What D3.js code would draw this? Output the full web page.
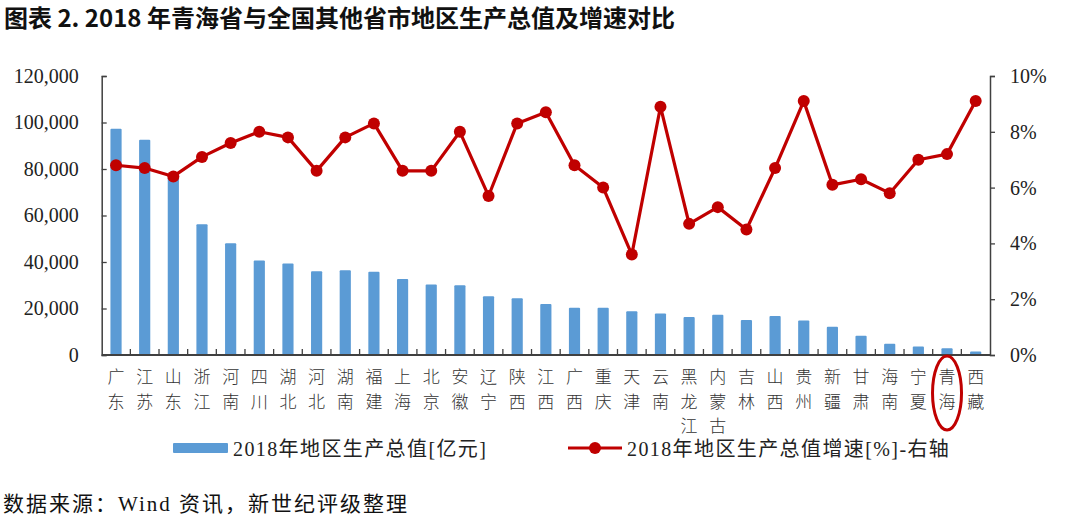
<!DOCTYPE html>
<html><head><meta charset="utf-8">
<script src="https://cdn.jsdelivr.net/npm/d3@7/dist/d3.min.js"></script>
<style>
html,body{margin:0;padding:0;background:#fff;}
svg{display:block;}
</style></head>
<body>
<svg id="chart" width="1080" height="526"></svg>
<script>
const categories = ['广东','江苏','山东','浙江','河南','四川','湖北','河北','湖南','福建','上海','北京','安徽','辽宁','陕西','江西','广西','重庆','天津','云南','黑龙江','内蒙古','吉林','山西','贵州','新疆','甘肃','海南','宁夏','青海','西藏'];
const gdp = [97278,92595,76470,56197,48056,40678,39367,36010,36426,35804,32680,30320,30007,25315,24438,21985,20353,20363,18810,17881,16362,17289,15075,16818,14806,12199,8246,4832,3705,2865,1478];
const growth = [6.8,6.7,6.4,7.1,7.6,8.0,7.8,6.6,7.8,8.3,6.6,6.6,8.0,5.7,8.3,8.7,6.8,6.0,3.6,8.9,4.7,5.3,4.5,6.7,9.1,6.1,6.3,5.8,7.0,7.2,9.1];
const leftTicks = [0,20000,40000,60000,80000,100000,120000];
const rightTicks = [0,2,4,6,8,10];
const titleText = '图表 2. 2018 年青海省与全国其他省市地区生产总值及增速对比';
const sourceText = '数据来源：Wind 资讯，新世纪评级整理';
const legendBar = '2018年地区生产总值[亿元]';
const legendLine = '2018年地区生产总值增速[%]-右轴';
const highlight = '青海';

const svg = d3.select('#chart');
const L = 101.7, R = 990, T = 76, B = 355;
const serif = "'Liberation Serif','Noto Sans CJK SC',serif";
const cjk = "'Noto Sans CJK SC',sans-serif";
const red = '#C00000', blue = '#5B9BD5', axisCol = '#404040';

const x = d3.scaleBand().domain(categories).range([L, R]).padding(0);
const yL = d3.scaleLinear().domain([0, 120000]).range([B, T]);
const yR = d3.scaleLinear().domain([0, 10]).range([B, T]);

// title
svg.append('text').attr('x', 4).attr('y', 27)
  .attr('font-family', cjk).attr('font-weight', 700).attr('font-size', 24)
  .attr('fill', '#111').text(titleText);

// bars
const bw = x.bandwidth() * 0.39;
svg.append('g').selectAll('rect').data(categories).join('rect')
  .attr('x', (d) => x(d) + x.bandwidth()/2 - bw/2)
  .attr('y', (d, i) => yL(gdp[i]))
  .attr('width', bw)
  .attr('height', (d, i) => B - yL(gdp[i]))
  .attr('fill', blue).attr('rx', 1);

// left axis
const gl = svg.append('g').attr('transform', `translate(${L},0)`)
  .call(d3.axisLeft(yL).tickValues(leftTicks).tickSize(-5).tickPadding(23).tickFormat(d3.format(',')));
gl.select('.domain').attr('stroke', axisCol).attr('stroke-width', 1.5);
gl.selectAll('.tick line').attr('stroke', axisCol).attr('stroke-width', 1.3);
gl.selectAll('.tick text').attr('font-family', serif).attr('font-size', 20).attr('fill', '#222');

// right axis
const gr = svg.append('g').attr('transform', `translate(${R},0)`)
  .call(d3.axisRight(yR).tickValues(rightTicks).tickSize(5).tickPadding(15).tickFormat((d) => d + '%'));
gr.select('.domain').attr('stroke', axisCol).attr('stroke-width', 1.5);
gr.selectAll('.tick line').attr('stroke', axisCol).attr('stroke-width', 1.3);
gr.selectAll('.tick text').attr('font-family', serif).attr('font-size', 20).attr('fill', '#222');

// bottom axis baseline and tick marks between categories
svg.append('line').attr('x1', L).attr('x2', R).attr('y1', B).attr('y2', B)
  .attr('stroke', axisCol).attr('stroke-width', 1.8);
svg.append('g').selectAll('line').data(categories.slice(1)).join('line')
  .attr('x1', (d) => x(d)).attr('x2', (d) => x(d))
  .attr('y1', B).attr('y2', B - 6)
  .attr('stroke', axisCol).attr('stroke-width', 1.3);

// category labels (vertical, one char per line)
const lab = svg.append('g');
categories.forEach((c) => {
  const cx = x(c) + x.bandwidth()/2;
  const t = lab.append('text').attr('font-family', cjk).attr('font-weight', 300)
    .attr('font-size', 17).attr('fill', '#333').attr('text-anchor', 'middle');
  Array.from(c).forEach((ch, j) => {
    t.append('tspan').attr('x', cx).attr('y', 383 + j * 24.5).text(ch);
  });
});

// line series
const line = d3.line().x((d, i) => x(categories[i]) + x.bandwidth()/2).y((d) => yR(d));
svg.append('path').datum(growth).attr('d', line)
  .attr('fill', 'none').attr('stroke', red).attr('stroke-width', 3.2).attr('stroke-linejoin', 'round');
svg.append('g').selectAll('circle').data(growth).join('circle')
  .attr('cx', (d, i) => x(categories[i]) + x.bandwidth()/2)
  .attr('cy', (d) => yR(d)).attr('r', 6).attr('fill', red);

// highlight ellipse
svg.append('ellipse').attr('cx', x(highlight) + x.bandwidth()/2).attr('cy', 393)
  .attr('rx', 14.5).attr('ry', 37)
  .attr('fill', 'none').attr('stroke', red).attr('stroke-width', 3);

// legend
svg.append('rect').attr('x', 173).attr('y', 443).attr('width', 55).attr('height', 10).attr('fill', blue).attr('rx', 1);
svg.append('text').attr('x', 233).attr('y', 455.5).attr('font-family', serif).attr('font-size', 20)
  .attr('letter-spacing', 1.4).attr('fill', '#222').text(legendBar);
svg.append('line').attr('x1', 568).attr('x2', 622).attr('y1', 448).attr('y2', 448)
  .attr('stroke', red).attr('stroke-width', 3.2);
svg.append('circle').attr('cx', 595).attr('cy', 448).attr('r', 6).attr('fill', red);
svg.append('text').attr('x', 627).attr('y', 455.5).attr('font-family', serif).attr('font-size', 20)
  .attr('letter-spacing', 1.4).attr('fill', '#222').text(legendLine);

// source
svg.append('text').attr('x', 3).attr('y', 511).attr('font-family', serif).attr('font-size', 21)
  .attr('letter-spacing', 2).attr('fill', '#111').text(sourceText);
</script>
</body></html>
